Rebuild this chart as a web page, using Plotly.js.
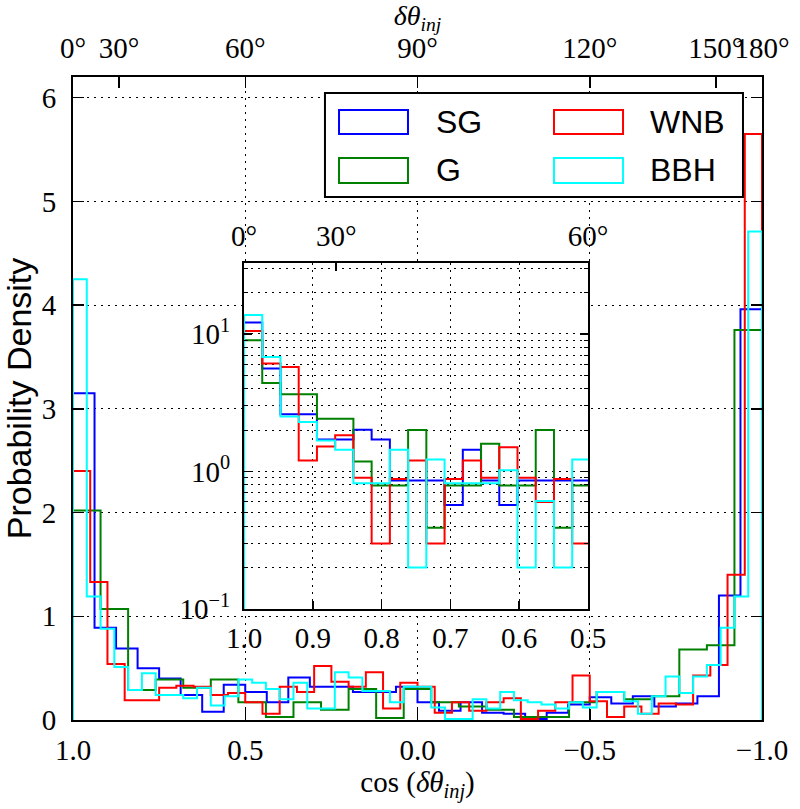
<!DOCTYPE html>
<html>
<head>
<meta charset="utf-8">
<script src="https://cdn.plot.ly/plotly-3.0.1.min.js"></script>
<style>
  html, body { margin: 0; padding: 0; background: #ffffff; }
  #chart { width: 800px; height: 809px; }
</style>
</head>
<body>
<div id="chart"></div>
<script>
// ---------------- data ----------------
const seriesNames = ['SG', 'G', 'WNB', 'BBH'];

// Main panel: probability density per bin, bins span cos = 1.0 ... -1.0 (left to right)
const sgVals = [3.15, 0.89, 0.69, 0.50, 0.40, 0.24, 0.08, 0.34, 0.27, 0.17, 0.41, 0.32, 0.32, 0.27, 0.27, 0.32,
                0.17, 0.09, 0.17, 0.07, 0.06, 0.01, 0.07, 0.15, 0.22, 0.16, 0.23, 0.13, 0.16, 0.23, 1.20, 3.96];
const gVals = [2.02, 1.07, 0.29, 0.39, 0.31, 0.39, 0.17, 0.03, 0.17, 0.10, 0.30, 0.02, 0.30, 0.17, 0.13, 0.10,
               0.03, 0.03, 0.17, 0.27, 0.20, 0.23, 0.68, 0.72, 3.76];
const wnbVals = [2.40, 1.33, 0.54, 0.19, 0.19, 0.31, 0.33, 0.32, 0.24, 0.26, 0.17, 0.06, 0.32, 0.27, 0.52, 0.37,
                 0.32, 0.46, 0.11, 0.36, 0.32, 0.07, 0.17, 0.09, 0.17, 0.21, 0.01, 0.09, 0.17, 0.43, 0.18, 0.03,
                 0.13, 0.06, 0.16, 0.15, 0.43, 0.53, 1.40, 5.65];
const bbhVals = [4.25, 1.19, 0.88, 0.51, 0.29, 0.45, 0.24, 0.24, 0.21, 0.31, 0.14, 0.23, 0.39, 0.36, 0.30, 0.20,
                 0.36, 0.11, 0.11, 0.46, 0.41, 0.28, 0.28, 0.17, 0.32, 0.32, 0.12, 0.01, 0.01, 0.20, 0.11, 0.27,
                 0.19, 0.17, 0.15, 0.11, 0.17, 0.12, 0.27, 0.27, 0.18, 0.06, 0.23, 0.42, 0.26, 0.42, 0.53, 0.89,
                 1.19, 4.71];
const mainRange = [1.0, -1.0];

// Inset panel (log density), bins of fixed width starting at cos = 1.0
const insetBinWidth = 0.0265;
const sgInset  = [12.1, 5.6, 2.6, 2.6, 1.71, 1.71, 2.01, 1.71, 0.86, 0.86, 0.86, 0.57, 1.44, 0.86, 0.57, 0.86, 0.86, 0.86, 0.86];
const gInset   = [9.0, 4.4, 3.64, 3.64, 2.42, 2.42, 1.18, 0.79, 0.79, 2.0, 0.39, 0.79, 0.79, 1.59, 0.79, 0.79, 2.0, 0.39, 0.79];
const wnbInset = [10.5, 6.08, 5.75, 1.2, 1.52, 1.83, 0.9, 0.30, 0.88, 1.2, 0.30, 0.88, 1.2, 0.9, 1.5, 0.9, 0.60, 0.88, 0.30];
const bbhInset = [13.7, 6.8, 2.51, 2.29, 1.68, 1.44, 0.82, 0.82, 1.44, 0.20, 1.22, 0.82, 0.82, 0.82, 1.02, 0.20, 0.61, 0.20, 1.22];

// Tick labels
const mainCosTicks = [1.0, 0.5, 0.0, -0.5, -1.0];
const mainCosLabels = ['1.0', '0.5', '0.0', '\u22120.5', '\u22121.0'];
const mainYTicks = [0, 1, 2, 3, 4, 5, 6];
const mainYLabels = ['0', '1', '2', '3', '4', '5', '6'];
const mainDegTicks = [0, 30, 60, 90, 120, 150, 180];
const mainDegLabels = ['0\u00b0', '30\u00b0', '60\u00b0', '90\u00b0', '120\u00b0', '150\u00b0', '180\u00b0'];
const insetCosTicks = [1.0, 0.9, 0.8, 0.7, 0.6, 0.5];
const insetCosLabels = ['1.0', '0.9', '0.8', '0.7', '0.6', '0.5'];
const insetDegTicks = [0, 30, 60];
const insetDegLabels = ['0\u00b0', '30\u00b0', '60\u00b0'];
const insetLogTicks = [0.1, 1, 10];
const insetLogLabels = ['10<sup>\u22121</sup>', '10<sup>0</sup>', '10<sup>1</sup>'];
const insetMinorTicks = [0.2, 0.3, 0.4, 0.5, 0.6, 0.7, 0.8, 0.9, 2, 3, 4, 5, 6, 7, 8, 9, 20, 30];

// ---------------- helpers ----------------
const colors = { SG: '#0000ff', G: '#008000', WNB: '#ff0000', BBH: '#00ffff' };
const deg2cos = d => Math.cos(d * Math.PI / 180);

function edgesOver(range, n) {
  const e = [];
  for (let i = 0; i <= n; i++) e.push(range[0] + (range[1] - range[0]) * i / n);
  return e;
}
function edgesWidth(start, width, n) {
  const e = [];
  for (let i = 0; i <= n; i++) e.push(start - width * i);
  return e;
}
function stepOutline(edges, vals, base) {
  const x = [edges[0]], y = [base];
  for (let i = 0; i < vals.length; i++) {
    x.push(edges[i], edges[i + 1]);
    y.push(vals[i], vals[i]);
  }
  x.push(edges[vals.length]); y.push(base);
  return { x, y };
}

const mainData = { SG: sgVals, G: gVals, WNB: wnbVals, BBH: bbhVals };
const insetData = { SG: sgInset, G: gInset, WNB: wnbInset, BBH: bbhInset };

const traces = [];
seriesNames.forEach(name => {
  const v = mainData[name];
  const s = stepOutline(edgesOver(mainRange, v.length), v, 0);
  traces.push({ type: 'scatter', mode: 'lines', x: s.x, y: s.y, name: name,
    xaxis: 'x', yaxis: 'y', line: { color: colors[name], width: 2 }, hoverinfo: 'skip' });
});
// empty trace to register the top (degree) axis
traces.push({ type: 'scatter', mode: 'lines', x: [], y: [], name: 'top axis', xaxis: 'x2', yaxis: 'y', hoverinfo: 'skip' });
seriesNames.forEach(name => {
  const v = insetData[name];
  const s = stepOutline(edgesWidth(1.0, insetBinWidth, v.length), v, 0.001);
  traces.push({ type: 'scatter', mode: 'lines', x: s.x, y: s.y, name: name,
    xaxis: 'x3', yaxis: 'y3', line: { color: colors[name], width: 2 }, hoverinfo: 'skip' });
});
traces.push({ type: 'scatter', mode: 'lines', x: [], y: [], name: 'inset top axis', xaxis: 'x4', yaxis: 'y3', hoverinfo: 'skip' });

// ---------------- layout ----------------
const serif = 'Liberation Serif';
const sans = 'Liberation Sans';
const tickFont = () => ({ family: serif, size: 29, color: '#000000' });
const gridDash = '2px,5px';

// legend geometry (paper coords)
const legendShapes = [
  { type: 'rect', xref: 'paper', yref: 'paper', x0: 0.3657, x1: 0.9724, y0: 0.8134, y1: 0.9751,
    line: { color: '#000', width: 2 }, fillcolor: '#ffffff', layer: 'above' }
];
const legendPos = {
  SG:  { px0: 0.3861, px1: 0.4862, py0: 0.9114, py1: 0.9487, tx: 0.5240, ty: 0.9300 },
  G:   { px0: 0.3861, px1: 0.4862, py0: 0.8351, py1: 0.8740, tx: 0.5240, ty: 0.8554 },
  WNB: { px0: 0.6981, px1: 0.7983, py0: 0.9114, py1: 0.9487, tx: 0.8345, ty: 0.9300 },
  BBH: { px0: 0.6981, px1: 0.7983, py0: 0.8351, py1: 0.8740, tx: 0.8345, ty: 0.8554 }
};
const legendAnn = [];
seriesNames.forEach(name => {
  const p = legendPos[name];
  legendShapes.push({ type: 'rect', xref: 'paper', yref: 'paper', x0: p.px0, x1: p.px1, y0: p.py0, y1: p.py1,
    line: { color: colors[name], width: 2 }, fillcolor: 'rgba(0,0,0,0)', layer: 'above' });
  legendAnn.push({ xref: 'paper', yref: 'paper', x: p.tx, y: p.ty, xanchor: 'left', yanchor: 'middle',
    text: name, showarrow: false, font: { family: sans, size: 32, color: '#000' } });
});

const layout = {
  width: 800, height: 809,
  margin: { l: 73, r: 38, t: 77, b: 89, pad: 0 },
  paper_bgcolor: '#ffffff', plot_bgcolor: '#ffffff',
  showlegend: false,
  font: { family: serif, size: 29, color: '#000000' },
  xaxis: {
    domain: [0, 1], anchor: 'y', range: mainRange,
    tickmode: 'array', tickvals: mainCosTicks, ticktext: mainCosLabels, tickfont: tickFont(), tickangle: 0,
    ticks: 'inside', ticklen: 11, tickwidth: 1.5, tickcolor: '#000', ticklabelstandoff: 3,
    showline: true, linewidth: 2, linecolor: '#000', mirror: false,
    showgrid: true, gridcolor: '#000', gridwidth: 1, griddash: gridDash, zeroline: false,
    title: { text: 'cos (<i>\u03b4\u03b8</i><sub><i>inj</i></sub>)', font: { family: serif, size: 29 }, standoff: 0 }
  },
  xaxis2: {
    overlaying: 'x', side: 'top', anchor: 'y', range: mainRange,
    tickmode: 'array', tickvals: mainDegTicks.map(deg2cos), ticktext: mainDegLabels, tickfont: tickFont(), tickangle: 0,
    ticks: 'inside', ticklen: 11, tickwidth: 1.5, tickcolor: '#000', ticklabelstandoff: 5,
    showline: true, linewidth: 2, linecolor: '#000',
    showgrid: false, zeroline: false,
    title: { text: '<i>\u03b4\u03b8</i><sub><i>inj</i></sub>', font: { family: serif, size: 28 }, standoff: 21 }
  },
  yaxis: {
    domain: [0, 1], anchor: 'x', range: [0, 6.2],
    tickmode: 'array', tickvals: mainYTicks, ticktext: mainYLabels, tickfont: tickFont(), tickangle: 0,
    ticks: 'inside', ticklen: 11, tickwidth: 1.5, tickcolor: '#000', ticklabelstandoff: 9,
    showline: true, linewidth: 2, linecolor: '#000', mirror: 'ticks',
    showgrid: true, gridcolor: '#000', gridwidth: 1, griddash: gridDash, zeroline: false,
    title: { text: 'Probability Density', font: { family: sans, size: 34 }, standoff: 10 }
  },
  xaxis3: {
    domain: [0.2482, 0.7475], anchor: 'y3', range: [1.0, 0.5],
    tickmode: 'array', tickvals: insetCosTicks, ticktext: insetCosLabels, tickfont: tickFont(), tickangle: 0,
    ticks: 'inside', ticklen: 8, tickwidth: 1.5, tickcolor: '#000', ticklabelstandoff: 2,
    showline: true, linewidth: 2, linecolor: '#000', mirror: false,
    showgrid: true, gridcolor: '#000', gridwidth: 1, griddash: gridDash, zeroline: false
  },
  xaxis4: {
    overlaying: 'x3', side: 'top', anchor: 'y3', range: [1.0, 0.5],
    tickmode: 'array', tickvals: insetDegTicks.map(deg2cos), ticktext: insetDegLabels, tickfont: tickFont(), tickangle: 0,
    ticks: 'inside', ticklen: 8, tickwidth: 1.5, tickcolor: '#000', ticklabelstandoff: 4,
    showline: true, linewidth: 2, linecolor: '#000',
    showgrid: false, zeroline: false
  },
  yaxis3: {
    domain: [0.1726, 0.7103], anchor: 'x3', type: 'log', range: [-1, 1.513],
    tickmode: 'array', tickvals: insetLogTicks, ticktext: insetLogLabels, tickfont: tickFont(), tickangle: 0,
    ticks: 'inside', ticklen: 8, tickwidth: 1.5, tickcolor: '#000', ticklabelstandoff: 6,
    showline: true, linewidth: 2, linecolor: '#000', mirror: 'ticks',
    showgrid: true, gridcolor: '#000', gridwidth: 1, griddash: gridDash, zeroline: false,
    minor: { tickmode: 'array', tickvals: insetMinorTicks, ticks: 'inside', ticklen: 4, tickwidth: 1, tickcolor: '#000',
             showgrid: true, gridcolor: '#000', gridwidth: 1, griddash: gridDash }
  },
  shapes: legendShapes,
  annotations: legendAnn
};

Plotly.newPlot('chart', traces, layout, { displayModeBar: false, staticPlot: true });
</script>
</body>
</html>
